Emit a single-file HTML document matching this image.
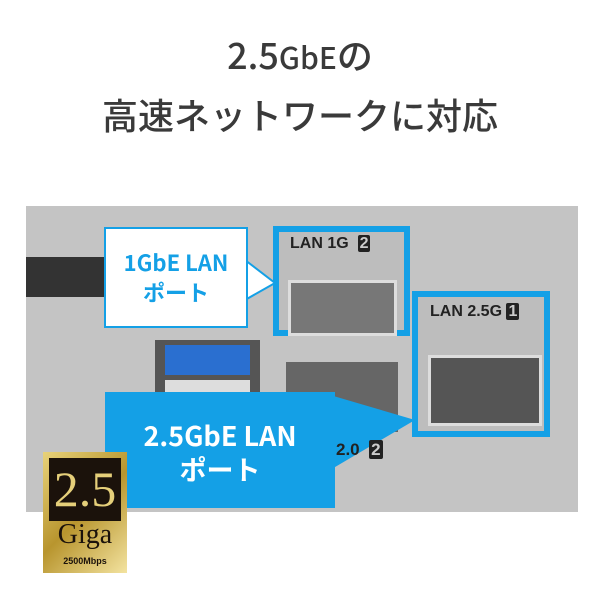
<!DOCTYPE html>
<html><head><meta charset="utf-8"><style>
body{margin:0;width:600px;height:600px;background:#fff;position:relative;overflow:hidden;font-family:"Liberation Sans","Noto Sans CJK JP",sans-serif}
.a{position:absolute}
.t{left:0;width:600px;text-align:center;color:#3a3a3a;font-family:"Noto Sans CJK JP",sans-serif;font-weight:500}
</style></head><body>
<div class="a t" style="top:28px;font-size:36px">2.5<span style="font-size:30px">GbE</span>の</div>
<div class="a t" style="top:88px;font-size:36px">高速ネットワークに対応</div>
<div class="a" style="left:26px;top:206px;width:552px;height:306px;background:#c4c4c4"></div>
<div class="a" style="left:26px;top:257px;width:78px;height:40px;background:#333"></div>
<div class="a" style="left:155px;top:340px;width:105px;height:90px;background:#555"></div>
<div class="a" style="left:165px;top:345px;width:85px;height:30px;background:#2a6fd0"></div>
<div class="a" style="left:165px;top:380px;width:85px;height:20px;background:#ddd"></div>
<div class="a" style="left:286px;top:362px;width:112px;height:70px;background:#666"></div>
<div class="a" style="left:273px;top:226px;width:137px;height:110px;border:6px solid #14a0e6;box-sizing:border-box;background:#bdbdbd"></div>
<div class="a" style="left:290px;top:235px;font-size:16px;font-weight:bold;color:#222">LAN 1G &nbsp;<span style="background:#222;color:#ccc;padding:0 2px;border-radius:2px">2</span></div>
<div class="a" style="left:288px;top:280px;width:103px;height:50px;background:#777;border:3px solid #ddd"></div>
<div class="a" style="left:412px;top:291px;width:138px;height:146px;border:6px solid #14a0e6;box-sizing:border-box;background:#bdbdbd"></div>
<div class="a" style="left:430px;top:303px;font-size:16px;font-weight:bold;color:#222">LAN 2.5G <span style="background:#222;color:#ccc;padding:0 2px;border-radius:2px">1</span></div>
<div class="a" style="left:428px;top:355px;width:108px;height:65px;background:#555;border:3px solid #ddd"></div>
<svg class="a" style="left:0;top:0" width="600" height="600">
<polygon points="245,260 275,283 245,300" fill="#fff" stroke="#14a0e6" stroke-width="2"/>
<polygon points="330,395 415,420 330,470" fill="#14a0e6"/>
</svg>
<div class="a" style="left:336px;top:440px;font-size:17px;font-weight:bold;color:#222">2.0 &nbsp;<span style="background:#222;color:#ccc;padding:0 2px;border-radius:2px">2</span></div>
<div class="a" style="left:104px;top:227px;width:144px;height:101px;background:#fff;border:2px solid #14a0e6;box-sizing:border-box;color:#14a0e6;font-weight:bold;text-align:center;font-size:22px;line-height:30px;padding-top:18px;font-family:'Noto Sans CJK JP',sans-serif">1GbE LAN<br>ポート</div>
<div class="a" style="left:105px;top:392px;width:230px;height:116px;background:#14a0e6;color:#fff;font-weight:bold;text-align:center;font-size:27px;line-height:34px;padding-top:26px;box-sizing:border-box;font-family:'Noto Sans CJK JP',sans-serif">2.5GbE LAN<br>ポート</div>
<div class="a" style="left:43px;top:452px;width:84px;height:121px;background:linear-gradient(135deg,#e8d27a,#b8952e,#f3e3a0);"></div>
<div class="a" style="left:49px;top:458px;width:72px;height:63px;background:#1b120b;color:#e5cf7a;font-family:'Liberation Serif',serif;font-size:50px;text-align:center;line-height:63px">2.5</div>
<div class="a" style="left:43px;top:519px;width:84px;text-align:center;font-family:'Liberation Serif',serif;font-size:28px;color:#1b120b">Giga</div>
<div class="a" style="left:43px;top:556px;width:84px;text-align:center;font-size:9px;font-weight:bold;color:#1b120b">2500Mbps</div>
</body></html>
